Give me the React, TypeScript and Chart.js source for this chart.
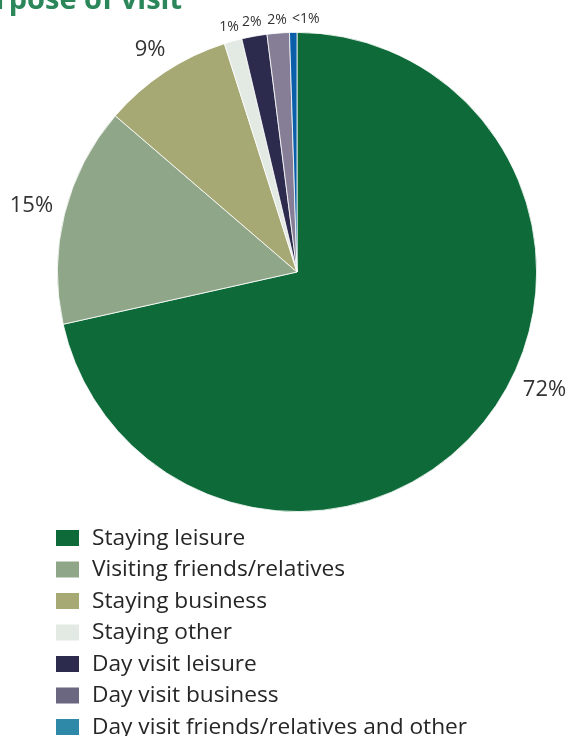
import React, { useEffect, useRef } from "react";
import { Chart, registerables } from "chart.js";

Chart.register(...registerables);

const titleText = "Purpose of visit";
const categories = [
  "Staying leisure",
  "Visiting friends/relatives",
  "Staying business",
  "Staying other",
  "Day visit leisure",
  "Day visit business",
  "Day visit friends/relatives and other",
];
const shares = [71.5, 14.8, 8.8, 1.2, 1.7, 1.5, 0.5];
const sliceColors = ["#0e6b39", "#8fa688", "#a7a975", "#e3e9e3", "#2c2b4e", "#857e96", "#0b5ea8"];
const legendColors = ["#0e6b39", "#8fa688", "#a7a975", "#e3e9e3", "#2c2b4e", "#6b6781", "#2e88a8"];
// label angle override (degrees, chart.js convention) for best-fit placement
const labelAngleOverride: (number | null)[] = [25.4, null, null, null, null, null, -88];

const FONT = "'Open Sans', sans-serif";

function labelText(v: number) {
  return v < 1 ? "<1%" : Math.round(v) + "%";
}

const overlayPlugin = {
  id: "overlay",
  afterDraw(chart: any) {
    const ctx = chart.ctx;
    ctx.save();
    // title (cropped at the left edge, as in the reference)
    ctx.font = `bold 29px ${FONT}`;
    ctx.fillStyle = "#2b875a";
    ctx.textAlign = "right";
    ctx.textBaseline = "alphabetic";
    ctx.fillText(titleText, 182, 9);

    // data labels
    const meta = chart.getDatasetMeta(0);
    const data = chart.data.datasets[0].data as number[];
    meta.data.forEach((arc: any, i: number) => {
      const p = arc.getProps(["x", "y", "startAngle", "endAngle", "outerRadius"], true);
      const v = data[i];
      const small = v < 5;
      const fs = small ? 14 : 22;
      ctx.font = `${fs}px ${FONT}`;
      ctx.fillStyle = "#333333";
      ctx.textAlign = "center";
      ctx.textBaseline = "middle";
      const t = labelText(v);
      const w = ctx.measureText(t).width;
      const h = fs * 0.8;
      const ov = labelAngleOverride[i];
      const a = ov !== null && ov !== undefined ? (ov * Math.PI) / 180 : (p.startAngle + p.endAngle) / 2;
      const ext = Math.abs(Math.cos(a)) * w / 2 + Math.abs(Math.sin(a)) * h / 2;
      const d = p.outerRadius + fs * 0.5 + ext;
      ctx.fillText(t, p.x + Math.cos(a) * d, p.y + Math.sin(a) * d);
    });

    // legend
    const labels = chart.data.labels as string[];
    const x0 = 56;
    const y0 = 538;
    const step = 31.5;
    labels.forEach((lab, i) => {
      const cy = y0 + i * step;
      ctx.fillStyle = legendColors[i];
      ctx.fillRect(x0, cy - 8, 23, 16);
      ctx.fillStyle = "#262626";
      ctx.font = `22.7px ${FONT}`;
      ctx.textAlign = "left";
      ctx.textBaseline = "middle";
      ctx.fillText(lab, 92, cy + 0.5);
    });
    ctx.restore();
  },
};

export default function App() {
  const ref = useRef<HTMLCanvasElement | null>(null);
  useEffect(() => {
    if (!ref.current) return;
    const chart = new Chart(ref.current, {
      type: "pie",
      data: {
        labels: categories,
        datasets: [
          {
            data: shares,
            backgroundColor: sliceColors,
            borderColor: "#ffffff",
            borderWidth: 0.8,
          },
        ],
      },
      options: {
        responsive: false,
        animation: false,
        rotation: 0,
        layout: { padding: { top: 32, bottom: 224, left: 57, right: 31 } },
        plugins: {
          legend: { display: false },
          tooltip: { enabled: false },
          title: { display: false },
        },
      },
      plugins: [overlayPlugin],
    });
    return () => chart.destroy();
  }, []);
  return (
    <div style={{ position: "absolute", left: 0, top: 0, width: 568, height: 736, background: "#fff" }}>
      <canvas ref={ref} width={568} height={736} style={{ display: "block" }} />
    </div>
  );
}
